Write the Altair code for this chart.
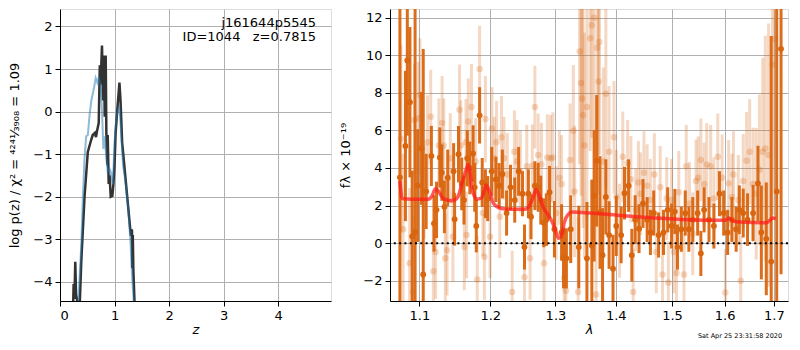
import altair as alt
import pandas as pd

FONT = "DejaVu Sans"

# ---------------- left panel: log p(z) ----------------
z_dark = [0.24, 0.25, 0.265, 0.28, 0.295, 0.31, 0.33, 0.36, 0.39, 0.45, 0.51, 0.575, 0.60, 0.64,
          0.66, 0.68, 0.71, 0.73, 0.745, 0.77, 0.79, 0.807, 0.82, 0.838, 0.85, 0.87, 0.875, 0.893,
          0.91, 0.93, 0.96, 0.98, 1.0, 1.02, 1.05, 1.09, 1.11, 1.14, 1.19, 1.25, 1.30, 1.31, 1.32,
          1.325, 1.335, 1.345, 1.37]
lp_dark = [-4.6, -4.05, -4.4, -3.53, -4.3, -4.4, -4.6, -4.6, -3.53, -2.0, -0.95, -0.65, -0.55, -0.5,
           -0.6, -0.45, -0.27, 1.09, 0.64, 1.55, 0.26, 1.32, -0.12, 1.32, -0.5, -1.26, -0.55, -1.7,
           -1.5, -2.0, -1.98, -1.7, -1.26, -0.5, 0.03, 0.68, 0.26, -0.73, -1.41, -2.24, -2.92, -2.77, -2.8,
           -3.68, -2.9, -3.7, -4.6]

z_light = [0.33, 0.39, 0.42, 0.45, 0.48, 0.51, 0.545, 0.575, 0.624, 0.655, 0.685, 0.71, 0.745, 0.77,
           0.795, 0.82, 0.85, 0.875, 0.905, 0.93, 0.97, 1.0, 1.03, 1.06, 1.09, 1.12, 1.156, 1.2, 1.25,
           1.297, 1.32, 1.36]
lp_light = [-4.6, -3.15, -2.0, -1.1, -0.58, -0.55, -0.05, 0.26, 0.56, 0.79, 0.68, 0.79, 0.64, 0.03,
            -0.88, -0.58, -1.1, -1.41, -1.33, -1.41, -1.71, -0.73, -0.2, 0.03, 0.1, -0.45, -1.26, -1.64, -2.24,
            -3.15, -3.83, -4.6]

left_ticks_x = [0, 1, 2, 3, 4]
left_ticks_y = [-4, -3, -2, -1, 0, 1, 2]
label_lines = ["j161644p5545", "ID=1044\u00a0\u00a0\u00a0z=0.7815"]

# ---------------- right panel: spectrum ----------------
lam_dark = [1.074, 1.0813, 1.0838, 1.0873, 1.0903, 1.0942, 1.0977, 1.1029, 1.1052, 1.1092,
            1.1163, 1.1199, 1.1234, 1.1280, 1.1307, 1.1343, 1.1389, 1.1472, 1.1486, 1.1541,
            1.1587, 1.1619, 1.1666, 1.1703, 1.1750, 1.1773, 1.1796, 1.1844, 1.1882, 1.1929,
            1.1963, 1.2021, 1.2083, 1.2131, 1.2180, 1.2243, 1.2302, 1.2366, 1.2425, 1.2485,
            1.2515, 1.2575, 1.2616, 1.2676, 1.2727, 1.2768, 1.2814, 1.2855, 1.2906, 1.2984,
            1.3098, 1.3129, 1.3176, 1.3246, 1.3378, 1.3512, 1.3594, 1.3632, 1.3675, 1.3731,
            1.3774, 1.3830, 1.3885, 1.3952, 1.4008, 1.4092, 1.4150, 1.4222, 1.4278, 1.4336,
            1.4405, 1.4475, 1.4549, 1.4608, 1.4667, 1.4755, 1.4844, 1.4921, 1.4992, 1.5052,
            1.5101, 1.5173, 1.5246, 1.5314, 1.5387, 1.5480, 1.5541, 1.5603, 1.5697, 1.5792,
            1.5900, 1.5983, 1.6060, 1.6145, 1.6229, 1.6293, 1.6371, 1.6458, 1.6570, 1.6670,
            1.6739, 1.6841, 1.6943, 1.7058, 1.7149]
f_dark = [3.5, 5.17, 9.72, 7.5, 0.36, 0.6, 3.06, 5.04, -1.67, 2.75,
          4.64, 1.05, 1.77, 4.56, 3.75, 1.93, 3.48, 3.82, 1.27, 4.73,
          3.15, 2.29, 4.52, 4.0, 4.77, 2.97, 0.91, 6.8, 3.23, 2.63,
          2.37, 3.82, 3.39, 3.06, 3.68, 1.6, 2.97, 2.29, 3.82, 2.63,
          -0.21, 2.63, 1.41, 3.06, 2.97, 2.29, 1.08, 1.25, 2.71, 0.74,
          0.57, -0.81, -0.81, 0.74, -0.21, -0.81, -0.12, 2.52, 4.38, 1.63,
          -0.64, 2.46, 0.43, -1.36, 0.91, 0.43, 2.66, 3.06, -0.64, 1.25,
          0.77, 2.11, 1.25, 0.57, 1.6, 0.43, 0.57, 1.77, 0.91, 1.68,
          -0.21, 0.74, 1.6, 0.74, 1.25, 1.6, -0.55, 1.77, 1.25, 0.91,
          2.63, 1.6, 0.57, 1.25, 0.74, 1.77, 1.6, 1.25, 1.6, 3.18,
          0.57, 0.23, -0.98, 2.75, 10.34]
e_dark = [12, 4, 4, 4, 3.5, 12, 3, 3, 12, 2,
          1.6, 1.5, 1.5, 1.6, 1.5, 1.4, 1.5, 1.5, 1.4, 1.5,
          1.4, 1.3, 1.5, 1.4, 1.5, 1.3, 1.4, 1.5, 1.3, 1.3,
          1.2, 1.3, 1.2, 1.2, 1.3, 1.2, 1.2, 1.2, 1.3, 1.2,
          1.2, 1.3, 1.2, 1.3, 1.3, 1.3, 1.3, 1.4, 1.4, 1.5,
          1.5, 1.6, 1.6, 1.8, 2.2, 3.0, 3.5, 3.5, 3.5, 3.0,
          2.5, 2.0, 1.8, 1.8, 1.6, 1.5, 1.4, 1.4, 1.4, 1.3,
          1.3, 1.3, 1.2, 1.2, 1.2, 1.2, 1.2, 1.2, 1.2, 1.2,
          1.2, 1.2, 1.2, 1.2, 1.2, 1.2, 1.2, 1.2, 1.2, 1.2,
          1.2, 1.2, 1.2, 1.2, 1.2, 1.3, 1.3, 1.4, 1.5, 2.0,
          2.5, 3.0, 12, 12, 12]

lam_light = [1.0752, 1.0782, 1.0869, 1.0912, 1.0934, 1.0986, 1.1007, 1.1066, 1.1110, 1.1154,
             1.1190, 1.1221, 1.1266, 1.1311, 1.1334, 1.1355, 1.1380, 1.1425, 1.1462, 1.1555,
             1.1573, 1.1624, 1.1647, 1.1656, 1.1680, 1.1726, 1.1786, 1.1810, 1.1844, 1.1892,
             1.1914, 1.1929, 1.1997, 1.2025, 1.2058, 1.2093, 1.2141, 1.2166, 1.2204, 1.2253,
             1.2327, 1.2361, 1.2401, 1.2451, 1.2515, 1.2551, 1.2601, 1.2636, 1.2676, 1.2727,
             1.2778, 1.2819, 1.2871, 1.2922, 1.2958, 1.3011, 1.3062, 1.3098, 1.3140, 1.3167,
             1.3235, 1.3288, 1.3310, 1.3368, 1.3391, 1.3416, 1.3432, 1.3448, 1.3471, 1.3512,
             1.3567, 1.3594, 1.3632, 1.3665, 1.3687, 1.3708, 1.3720, 1.3786, 1.3830, 1.3885,
             1.3969, 1.4008, 1.4065, 1.4120, 1.4204, 1.4261, 1.4302, 1.4347, 1.4393, 1.4433,
             1.4492, 1.4549, 1.4608, 1.4678, 1.4713, 1.4784, 1.4826, 1.4903, 1.4933, 1.4992,
             1.5034, 1.5083, 1.5125, 1.5223, 1.5265, 1.5325, 1.5387, 1.5449, 1.5491, 1.5541,
             1.5603, 1.5654, 1.5729, 1.5792, 1.5868, 1.5952, 1.6016, 1.6080, 1.6145, 1.6176,
             1.6273, 1.6320, 1.6371, 1.6438, 1.6501, 1.6570, 1.6634, 1.6700, 1.6767, 1.6821,
             1.6888, 1.6969, 1.7024]
f_light = [5.55, 0.74, -1.07, -2.6, 6.55, 6.64, 7.9, 2.75, 5.37, 6.73,
           -1.5, -0.47, 5.2, 6.4, 5.2, -0.81, -0.38, 4.52, 0.34, 7.1,
           5.2, -0.21, 5.37, 0.43, 6.47, 7.24, 4.35, -1.93, 9.27, 1.6,
           -0.72, 6.6, 0.34, 6.1, 4.52, 5.37, 1.41, 5.63, 4.52, 3.65,
           -2.6, 4.86, 4.35, 3.82, -1.82, 4.09, -0.81, 4.12, 7.24, 4.69,
           4.2, -1.07, 4.56, 4.52, 4.56, 1.6, 3.48, 3.15, -1.84, -2.53,
           4.43, 5.98, 2.75, -2.6, 10.2, 8.52, 7.7, 6.8, 5.2, 7.24,
           10.9, 11.6, 12.0, -2.73, 10.4, 8.6, 10.7, 4.35, 7.95, 4.86,
           5.63, 2.46, 0.66, 4.6, 4.26, 3.4, -2.6, 1.77, 3.23, 2.63,
           3.75, 3.06, 2.29, 3.65, -0.47, 2.97, -1.67, 2.37, -2.1, 2.29,
           -0.47, -1.59, 2.71, -1.67, 4.09, 2.11, 0.5, 3.31, 3.48, 4.43,
           3.15, 4.18, 4.09, 2.37, 4.6, 3.48, -2.63, 3.18, 2.46, 3.65,
           2.29, -2.0, 3.31, 4.38, 4.86, 3.15, 2.63, 3.91, 4.86, 5.04,
           4.69, 9.5, 10.85]
e_light = [5, 4, 4, 4, 3, 3, 3, 2.5, 2.5, 2.5,
           2.5, 2.5, 2.5, 2.5, 2.5, 2.4, 2.4, 2.4, 2.4, 2.4,
           2.4, 2.3, 2.3, 2.3, 2.3, 2.3, 2.3, 2.3, 2.3, 2.3,
           2.3, 2.3, 2.2, 2.2, 2.2, 2.2, 2.2, 2.2, 2.2, 2.2,
           2.2, 2.2, 2.2, 2.2, 2.2, 2.2, 2.2, 2.2, 2.2, 2.2,
           2.2, 2.3, 2.3, 2.3, 2.4, 2.5, 2.5, 2.6, 2.7, 2.8,
           3.0, 3.5, 3.5, 4, 6, 6, 6, 6, 6, 6,
           6, 6, 6, 5, 6, 6, 6, 5, 5, 3.5,
           3, 2.5, 2.5, 2.4, 2.3, 2.3, 2.3, 2.2, 2.2, 2.2,
           2.2, 2.2, 2.2, 2.2, 2.2, 2.2, 2.2, 2.2, 2.2, 2.2,
           2.2, 2.2, 2.2, 2.2, 2.2, 2.2, 2.2, 2.2, 2.2, 2.2,
           2.2, 2.2, 2.2, 2.2, 2.3, 2.3, 2.3, 2.3, 2.3, 2.3,
           2.4, 2.4, 2.5, 2.6, 2.8, 3, 3.5, 4, 5, 6,
           7, 8, 8]

lam_model = [1.074, 1.077, 1.090, 1.111, 1.117, 1.122, 1.127, 1.133, 1.145, 1.153, 1.160, 1.165,
             1.168, 1.171, 1.173, 1.177, 1.180, 1.187, 1.192, 1.194, 1.198, 1.205, 1.215, 1.233,
             1.2525, 1.258, 1.265, 1.269, 1.274, 1.280, 1.288, 1.2955, 1.301, 1.305, 1.311, 1.314,
             1.320, 1.327, 1.356, 1.412, 1.469, 1.529, 1.592, 1.603, 1.608, 1.617, 1.630, 1.684,
             1.693, 1.697, 1.704]
f_model = [3.32, 2.37, 2.33, 2.33, 2.5, 2.89, 2.7, 2.37, 2.25, 2.45, 3.32, 3.9,
           4.18, 3.7, 2.97, 2.5, 2.34, 2.4, 2.9, 3.1, 2.8, 2.11, 1.86, 1.8,
           1.8, 1.93, 2.46, 2.84, 2.55, 1.94, 1.51, 1.08, 0.57, 0.26, 0.57, 1.08,
           1.51, 1.65, 1.6, 1.46, 1.34, 1.25, 1.22, 1.22, 1.34, 1.17, 1.12, 1.08,
           1.25, 1.34, 1.3]

right_ticks_x = [1.1, 1.2, 1.3, 1.4, 1.5, 1.6, 1.7]
right_ticks_y = [-2, 0, 2, 4, 6, 8, 10, 12]
timestamp = "Sat Apr 25 23:31:58 2020"

ORANGE = "#d9650f"
PLOT_H = 292
LEFT_W = 271
RIGHT_W = 398


def ax(**kw):
    base = dict(grid=True, gridColor="#b0b0b0", gridWidth=1, gridOpacity=1,
                tickColor="black", tickSize=5, tickWidth=1,
                domainColor="black", domainWidth=1,
                labelColor="black", labelFontSize=13, labelFont=FONT, labelPadding=3,
                titleFont=FONT, titleFontSize=13, titleColor="black",
                titleFontWeight="normal")
    base.update(kw)
    return alt.Axis(**base)


# ---- left ----
lx = alt.X("z:Q", scale=alt.Scale(domain=[0, 4.97], nice=False, zero=False),
           axis=ax(values=left_ticks_x, format="d", title="z", titleFontStyle="italic",
                   titlePadding=1))
ly = alt.Y("lp:Q", scale=alt.Scale(domain=[-4.45, 2.41], nice=False, zero=False),
           axis=ax(values=left_ticks_y, format="d",
                   title="log p(z) / χ² = ⁴²⁴¹⁄₃₉₀₈ = 1.09", titlePadding=11))

dark_line = alt.Chart(pd.DataFrame({"z": z_dark, "lp": lp_dark})).mark_line(
    color="#333333", strokeWidth=2.5, clip=True).encode(x=lx, y=ly, order="z:Q")
light_line = alt.Chart(pd.DataFrame({"z": z_light, "lp": lp_light})).mark_line(
    color="#1f77b4", opacity=0.5, strokeWidth=2, clip=True).encode(x=lx, y=ly, order="z:Q")
lbl = alt.Chart(pd.DataFrame({"t": label_lines, "yy": [14, 28]})).mark_text(
    align="right", baseline="middle", font=FONT, fontSize=13, color="black").encode(
    x=alt.value(256), y=alt.Y("yy:Q", scale=None), text="t:N")

left = alt.layer(dark_line, light_line, lbl).properties(width=LEFT_W, height=PLOT_H)

# ---- right ----
ydom = alt.Scale(domain=[-3.08, 12.46], nice=False, zero=False)
rx = alt.X("lam:Q", scale=alt.Scale(type="log", domain=[1.061, 1.7296], nice=False),
           axis=ax(values=right_ticks_x, format=".1f", title="λ", titleFontStyle="italic",
                   titlePadding=1))
ry = alt.Y("f:Q", scale=ydom,
           axis=ax(values=right_ticks_y, format="d", title="fλ × 10⁻¹⁹", titlePadding=10))

dlight = pd.DataFrame({"lam": lam_light, "f": f_light,
                       "lo": [a - b for a, b in zip(f_light, e_light)],
                       "hi": [a + b for a, b in zip(f_light, e_light)]})
ddark = pd.DataFrame({"lam": lam_dark, "f": f_dark,
                      "lo": [a - b for a, b in zip(f_dark, e_dark)],
                      "hi": [a + b for a, b in zip(f_dark, e_dark)]})

light_bars = alt.Chart(dlight).mark_rule(color=ORANGE, opacity=0.25, strokeWidth=3, clip=True).encode(
    x=rx, y=alt.Y("lo:Q", scale=ydom), y2="hi:Q")
light_pts = alt.Chart(dlight).mark_circle(color=ORANGE, opacity=0.25, size=42, clip=True).encode(
    x=rx, y=ry)
dark_bars = alt.Chart(ddark).mark_rule(color=ORANGE, opacity=0.95, strokeWidth=3, clip=True).encode(
    x=rx, y=alt.Y("lo:Q", scale=ydom), y2="hi:Q")
dark_pts = alt.Chart(ddark).mark_circle(color=ORANGE, opacity=1, size=34, clip=True).encode(
    x=rx, y=ry)
zero = alt.Chart(pd.DataFrame({"f": [0]})).mark_rule(
    color="black", strokeDash=[2, 3.3], strokeWidth=2).encode(y=ry)
model = alt.Chart(pd.DataFrame({"lam": lam_model, "f": f_model})).mark_line(
    color="#ff1a1a", opacity=0.72, strokeWidth=3.5, interpolate="monotone", clip=True).encode(
    x=rx, y=ry, order="lam:Q")
stamp = alt.Chart(pd.DataFrame({"t": [timestamp]})).mark_text(
    align="center", baseline="middle", font=FONT, fontSize=6.5, color="black").encode(
    x=alt.value(350), y=alt.value(327), text="t:N")

right = alt.layer(light_bars, light_pts, dark_bars, dark_pts, zero, model, stamp).properties(
    width=RIGHT_W, height=PLOT_H)

chart = alt.hconcat(left, right, spacing=59, bounds="flush").properties(
    padding={"left": 0, "top": 0, "right": 0, "bottom": 0}
).configure_view(stroke="black", strokeWidth=1).configure(background="white")

chart.save("out.html", embed_options={"renderer": "svg", "actions": False})
